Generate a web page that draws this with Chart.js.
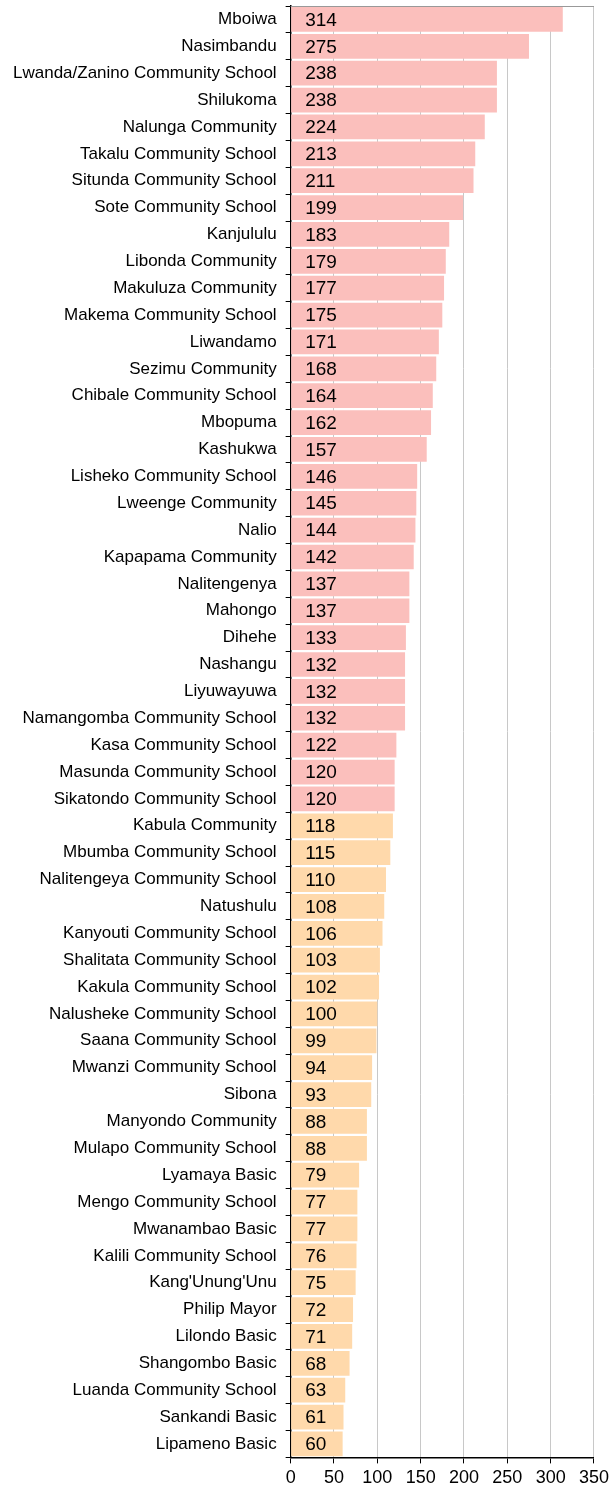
<!DOCTYPE html>
<html>
<head>
<meta charset="utf-8">
<script src="https://cdn.jsdelivr.net/npm/chart.js@4/dist/chart.umd.min.js"></script>
<style>
  html, body { margin: 0; padding: 0; background: #fff; }
  #wrap { width: 613px; height: 1493px; }
</style>
</head>
<body>
<div id="wrap"><canvas id="schoolChart"></canvas></div>
<script>
const schools = [
  'Mboiwa', 'Nasimbandu', 'Lwanda/Zanino Community School', 'Shilukoma',
  'Nalunga Community', 'Takalu Community School', 'Situnda Community School',
  'Sote Community School', 'Kanjululu', 'Libonda Community', 'Makuluza Community',
  'Makema Community School', 'Liwandamo', 'Sezimu Community', 'Chibale Community School',
  'Mbopuma', 'Kashukwa', 'Lisheko Community School', 'Lweenge Community', 'Nalio',
  'Kapapama Community', 'Nalitengenya', 'Mahongo', 'Dihehe', 'Nashangu', 'Liyuwayuwa',
  'Namangomba Community School', 'Kasa Community School', 'Masunda Community School',
  'Sikatondo Community School',
  'Kabula Community', 'Mbumba Community School', 'Nalitengeya Community School',
  'Natushulu', 'Kanyouti Community School', 'Shalitata Community School',
  'Kakula Community School', 'Nalusheke Community School', 'Saana Community School',
  'Mwanzi Community School', 'Sibona', 'Manyondo Community', 'Mulapo Community School',
  'Lyamaya Basic', 'Mengo Community School', 'Mwanambao Basic', 'Kalili Community School',
  "Kang'Unung'Unu", 'Philip Mayor', 'Lilondo Basic', 'Shangombo Basic',
  'Luanda Community School', 'Sankandi Basic', 'Lipameno Basic'
];

const learners = [
  314, 275, 238, 238, 224, 213, 211, 199, 183, 179, 177, 175, 171, 168, 164,
  162, 157, 146, 145, 144, 142, 137, 137, 133, 132, 132, 132, 122, 120, 120,
  118, 115, 110, 108, 106, 103, 102, 100, 99, 94, 93, 88, 88, 79, 77, 77, 76,
  75, 72, 71, 68, 63, 61, 60
];

// first group (pink) vs second group (orange)
const group = learners.map((v, i) => (i < 30 ? 'high' : 'low'));

const xTicks = [0, 50, 100, 150, 200, 250, 300, 350];

const colours = { high: '#fbbfbc', low: '#ffd9ab' };

// writes each value just inside the base of its bar
const valueLabels = {
  id: 'valueLabels',
  afterDatasetsDraw(chart) {
    const { ctx } = chart;
    const meta = chart.getDatasetMeta(0);
    ctx.save();
    ctx.font = '19px "Liberation Sans", Arial, sans-serif';
    ctx.fillStyle = '#000';
    ctx.textBaseline = 'middle';
    ctx.textAlign = 'left';
    meta.data.forEach((bar, i) => {
      ctx.fillText(String(learners[i]), bar.base + 14, bar.y + 1);
    });
    ctx.restore();
  }
};

// light frame along the top of the plot
const topFrame = {
  id: 'topFrame',
  beforeDatasetsDraw(chart) {
    const { ctx, chartArea } = chart;
    ctx.save();
    ctx.strokeStyle = '#999';
    ctx.lineWidth = 1;
    ctx.beginPath();
    ctx.moveTo(chartArea.left, chartArea.top + 0.5);
    ctx.lineTo(chartArea.right, chartArea.top + 0.5);
    ctx.stroke();
    ctx.restore();
  }
};

new Chart(document.getElementById('schoolChart'), {
  type: 'bar',
  data: {
    labels: schools,
    datasets: [{
      data: learners,
      backgroundColor: group.map(g => colours[g]),
      borderWidth: 0,
      barPercentage: 0.92,
      categoryPercentage: 1
    }]
  },
  options: {
    indexAxis: 'y',
    responsive: true,
    maintainAspectRatio: false,
    animation: false,
    layout: { padding: { top: 6, right: 0, bottom: 0, left: 4 } },
    plugins: {
      legend: { display: false },
      tooltip: { enabled: false }
    },
    scales: {
      x: {
        min: 0,
        max: 350,
        afterBuildTicks(axis) {
          axis.ticks = xTicks.map(v => ({ value: v }));
        },
        grid: {
          color: '#c8c8c8',
          tickColor: '#000',
          tickLength: 6,
          lineWidth: 1
        },
        border: { color: '#000', width: 1.5 },
        ticks: {
          color: '#000',
          font: { family: '"Liberation Sans", Arial, sans-serif', size: 18 },
          padding: 4,
          maxRotation: 0
        }
      },
      y: {
        afterFit(axis) {
          axis.paddingTop = 0;
          axis.paddingBottom = 0;
        },
        grid: {
          drawOnChartArea: false,
          color: '#000',
          tickLength: 5,
          offset: true
        },
        border: { color: '#000', width: 1.5 },
        ticks: {
          color: '#000',
          autoSkip: false,
          font: { family: '"Liberation Sans", Arial, sans-serif', size: 17 },
          padding: 9
        }
      }
    }
  },
  plugins: [topFrame, valueLabels]
});
</script>
</body>
</html>
